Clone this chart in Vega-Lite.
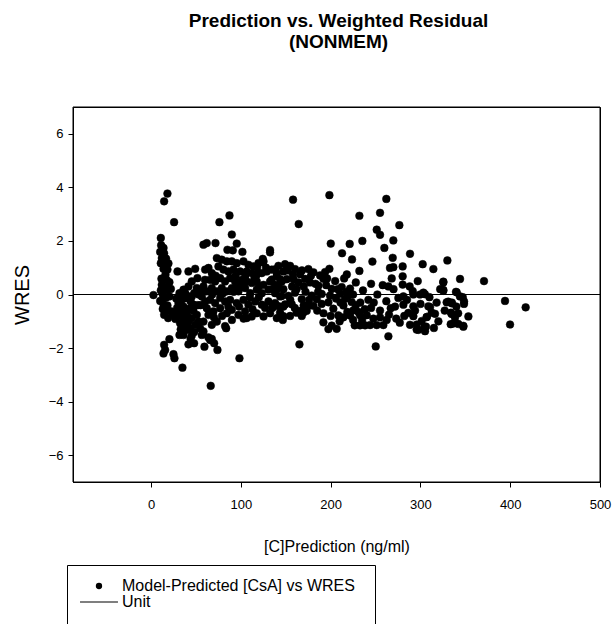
{
"$schema": "https://vega.github.io/schema/vega-lite/v6.json",
"width": 527,
"height": 375,
"autosize": {"type": "none"},
"padding": {"left": 73, "top": 107, "right": 14, "bottom": 142},
"background": "white",
"title": {"text": ["Prediction vs. Weighted Residual", "(NONMEM)"], "fontSize": 19, "font": "Liberation Sans", "fontWeight": "bold", "color": "black", "anchor": "middle", "offset": 55, "lineHeight": 21, "dx": 2},
"config": {
  "view": {"stroke": "black", "strokeWidth": 1},
  "font": "Liberation Sans",
  "axis": {"grid": false, "domainColor": "black", "tickColor": "black", "tickSize": 5, "labelColor": "black", "labelFontSize": 13, "labelFont": "Liberation Sans", "titleFont": "Liberation Sans", "titleFontWeight": "normal", "titleColor": "black"}
},
"layer": [
  {
    "data": {"values": [
{"c":10.8,"w":2.11},{"c":11.2,"w":1.84},{"c":13.8,"w":1.74},{"c":10.1,"w":1.59},{"c":14.5,"w":1.54},{"c":11.9,"w":1.36},{"c":16.7,"w":1.34},{"c":10.8,"w":1.17},{"c":15.6,"w":1.11},{"c":19.3,"w":1.16},
{"c":13.8,"w":0.96},{"c":18.2,"w":0.93},{"c":16,"w":0.74},{"c":11.5,"w":0.59},{"c":17.5,"w":0.54},{"c":20.4,"w":0.46},{"c":11.9,"w":0.36},{"c":15.6,"w":0.26},{"c":10.8,"w":0.15},{"c":18.2,"w":0.18},
{"c":22,"w":0.21},{"c":13,"w":0.0},{"c":16.7,"w":-0.11},{"c":20.4,"w":-0.07},{"c":10.1,"w":-0.24},{"c":13.8,"w":-0.36},{"c":18.2,"w":-0.41},{"c":13,"w":-0.54},{"c":16.7,"w":-0.61},{"c":22.3,"w":-0.63},
{"c":14.5,"w":-0.76},{"c":19,"w":-0.88},{"c":24.9,"w":-0.73},{"c":27.1,"w":-0.91},{"c":2.6,"w":-0.02},{"c":29.4,"w":0.86},{"c":18.2,"w":3.77},{"c":14.5,"w":3.48},{"c":25.6,"w":2.7},
{"c":14.5,"w":-1.88},{"c":15.6,"w":-2.07},{"c":13.8,"w":-2.2},{"c":20.4,"w":-1.67},{"c":24.9,"w":-2.23},{"c":26,"w":-2.38},{"c":34.9,"w":-2.73},{"c":31.6,"w":-1.51},{"c":41.6,"w":-1.86},
{"c":30.5,"w":-0.32},{"c":34.2,"w":-0.2},{"c":37.9,"w":-0.14},{"c":41.6,"w":-0.07},{"c":45.3,"w":-0.07},{"c":32.3,"w":-0.51},{"c":36.1,"w":-0.45},{"c":39.8,"w":-0.57},{"c":43.5,"w":-0.51},{"c":47.2,"w":-0.38},
{"c":30.5,"w":-0.7},{"c":34.2,"w":-0.82},{"c":37.9,"w":-0.88},{"c":41.6,"w":-1.01},{"c":45.3,"w":-0.88},{"c":50.9,"w":-0.76},{"c":32.3,"w":-1.07},{"c":36.1,"w":-1.2},{"c":39.8,"w":-1.32},{"c":43.5,"w":-1.26},
{"c":49,"w":-1.13},{"c":52.7,"w":-1.01},{"c":54.6,"w":-1.26},{"c":36.1,"w":-1.51},{"c":45.3,"w":-1.53},{"c":56.5,"w":-1.51},{"c":58.3,"w":-1.38},{"c":47.9,"w":-1.82},{"c":59.4,"w":-1.95},{"c":65.7,"w":-1.7},
{"c":70.2,"w":-1.82},{"c":73.9,"w":-2.07},{"c":98.4,"w":-2.38},{"c":83.6,"w":-1.26},{"c":41.6,"w":0.3},{"c":45.3,"w":0.49},{"c":50.9,"w":0.24},{"c":31.6,"w":0.05},{"c":36.1,"w":0.18},{"c":41.6,"w":0.86},
{"c":49.1,"w":0.96},{"c":51.6,"w":0.61},{"c":66.4,"w":-3.41},
{"c":58.3,"w":1.86},{"c":62,"w":1.92},{"c":71.7,"w":1.92},{"c":76.1,"w":2.7},{"c":87.3,"w":2.95},{"c":89.9,"w":2.24},{"c":95.4,"w":1.9},{"c":85,"w":1.67},{"c":91,"w":1.65},{"c":101.7,"w":1.59},
{"c":63.9,"w":0.99},{"c":60.2,"w":0.93},{"c":67.6,"w":0.8},{"c":73.2,"w":1.36},{"c":78.7,"w":1.3},{"c":84.3,"w":1.24},{"c":89.9,"w":1.24},{"c":95.4,"w":1.17},{"c":102.9,"w":1.24},{"c":108.4,"w":1.11},
{"c":114,"w":1.05},{"c":119.6,"w":1.17},{"c":125.2,"w":1.24},{"c":132.5,"w":1.57},{"c":75,"w":1.05},{"c":80.6,"w":0.93},{"c":86.1,"w":0.86},{"c":91.7,"w":0.93},{"c":99.1,"w":0.86},{"c":106.5,"w":0.86},
{"c":112.1,"w":0.8},{"c":117.7,"w":0.74},{"c":123.3,"w":0.8},{"c":128.8,"w":0.86},{"c":134.4,"w":0.93},{"c":140,"w":0.8},{"c":147.4,"w":0.86},{"c":65.7,"w":0.55},{"c":71.3,"w":0.49},{"c":76.9,"w":0.61},
{"c":82.4,"w":0.49},{"c":88,"w":0.61},{"c":93.6,"w":0.49},{"c":101,"w":0.55},{"c":106.5,"w":0.49},{"c":112.1,"w":0.43},{"c":117.7,"w":0.49},{"c":125.2,"w":0.36},{"c":132.5,"w":0.49},{"c":138.1,"w":0.36},
{"c":145.5,"w":0.49},{"c":58.3,"w":0.3},{"c":62,"w":0.12},{"c":67.6,"w":0.24},{"c":73.2,"w":0.12},{"c":78.7,"w":0.24},{"c":84.3,"w":0.12},{"c":89.9,"w":0.24},{"c":97.3,"w":0.12},{"c":104.7,"w":0.24},
{"c":110.3,"w":0.05},{"c":117.7,"w":0.18},{"c":123.3,"w":0.05},{"c":130.7,"w":0.18},{"c":138.1,"w":0.05},{"c":143.7,"w":-0.07},{"c":56.5,"w":-0.07},{"c":60.2,"w":-0.26},{"c":65.7,"w":-0.2},{"c":71.3,"w":-0.32},
{"c":76.9,"w":-0.13},{"c":82.4,"w":-0.26},{"c":88,"w":-0.2},{"c":95.4,"w":-0.32},{"c":102.9,"w":-0.2},{"c":108.4,"w":-0.38},{"c":115.9,"w":-0.26},{"c":123.3,"w":-0.38},{"c":130.7,"w":-0.26},{"c":138.1,"w":-0.32},
{"c":147.4,"w":-0.45},{"c":62,"w":-0.51},{"c":69.4,"w":-0.63},{"c":76.9,"w":-0.51},{"c":84.3,"w":-0.7},{"c":89.9,"w":-0.57},{"c":97.3,"w":-0.76},{"c":104.7,"w":-0.63},{"c":112.1,"w":-0.82},{"c":117.7,"w":-0.7},
{"c":125.2,"w":-0.82},{"c":132.5,"w":-0.7},{"c":140,"w":-0.88},{"c":146.7,"w":-0.95},{"c":63.9,"w":-0.76},{"c":58.3,"w":-1.01},{"c":67.6,"w":-1.13},{"c":73.2,"w":-1.01},{"c":106.5,"w":-0.88},{"c":124.4,"w":1.33},
{"c":124.4,"w":1.2},{"c":82.4,"w":-1.18},{"c":67.6,"w":-1.66},{"c":63.8,"w":-1.6},
{"c":158.1,"w":3.54},{"c":198.6,"w":3.71},{"c":164.4,"w":2.63},{"c":232,"w":2.94},{"c":262,"w":3.57},{"c":255,"w":3.05},{"c":276.5,"w":2.59},{"c":251.3,"w":2.42},{"c":255,"w":2.23},{"c":235.3,"w":2.0},
{"c":221.2,"w":1.89},{"c":200.1,"w":1.9},{"c":212.7,"w":1.54},{"c":223.8,"w":1.31},{"c":269.8,"w":2.02},{"c":259.8,"w":1.74},{"c":288.4,"w":1.52},{"c":246.5,"w":1.23},{"c":232,"w":0.88},{"c":269.1,"w":1.37},
{"c":269.8,"w":1.02},{"c":266.1,"w":0.99},{"c":280.2,"w":1.05},{"c":280.2,"w":0.68},{"c":280.2,"w":0.37},{"c":302.5,"w":1.13},{"c":314.4,"w":0.95},{"c":330,"w":1.27},{"c":325.5,"w":0.45},{"c":325.5,"w":0.14},
{"c":329.2,"w":-0.29},{"c":334.8,"w":-0.33},{"c":344.1,"w":0.58},{"c":340.4,"w":0.08},{"c":347.1,"w":-0.1},{"c":348.5,"w":-0.35},{"c":334.8,"w":-0.73},{"c":338.5,"w":-0.86},{"c":342.2,"w":-1.1},{"c":347.8,"w":-1.2},
{"c":333.7,"w":-1.11},{"c":307,"w":-0.84},{"c":306.2,"w":-1.2},{"c":305.1,"w":-1.37},{"c":295.8,"w":-1.31},{"c":295.8,"w":-1.12},{"c":301.4,"w":-0.99},{"c":310.7,"w":-0.47},{"c":316.2,"w":-0.72},{"c":292.1,"w":-0.44},
{"c":292.1,"w":0.0},{"c":299.5,"w":0.0},{"c":303.3,"w":0.07},{"c":292.1,"w":-0.81},{"c":288.4,"w":-1.13},{"c":286.5,"w":-0.69},{"c":281,"w":-0.38},{"c":281,"w":-0.07},{"c":275.4,"w":-0.13},{"c":271.7,"w":-0.45},
{"c":264.3,"w":0.3},{"c":266.9,"w":-0.51},{"c":262.4,"w":-0.95},{"c":258.7,"w":-1.14},{"c":251.3,"w":-1.14},{"c":243.9,"w":-1.14},{"c":238.3,"w":-1.15},{"c":232.7,"w":-1.15},{"c":226.8,"w":-1.15},{"c":247.6,"w":-0.9},
{"c":240.2,"w":-0.77},{"c":232.7,"w":-0.77},{"c":230.9,"w":-0.65},{"c":225.3,"w":-0.59},{"c":223.4,"w":-0.28},{"c":216,"w":-0.16},{"c":217.9,"w":0.1},{"c":221.6,"w":0.22},{"c":212.3,"w":0.28},{"c":210.5,"w":0.03},
{"c":214.2,"w":-0.41},{"c":218.6,"w":-0.65},{"c":221.6,"w":-0.78},{"c":214.2,"w":-0.85},{"c":201.2,"w":-1.16},{"c":197.5,"w":-1.29},{"c":191.9,"w":-1.04},{"c":206.7,"w":-1.28},{"c":208.6,"w":-0.78},{"c":203,"w":-0.53},
{"c":197.5,"w":-0.29},{"c":199.3,"w":-0.04},{"c":201.2,"w":0.21},{"c":190,"w":0.02},{"c":184.5,"w":-0.17},{"c":178.9,"w":-0.04},{"c":180.8,"w":-0.42},{"c":175.2,"w":-0.42},{"c":173.3,"w":-0.61},{"c":169.6,"w":-0.67},
{"c":167.8,"w":-0.8},{"c":165.9,"w":-0.61},{"c":191.9,"w":0.59},{"c":188.2,"w":0.71},{"c":180.8,"w":0.83},{"c":175.2,"w":0.95},{"c":193.8,"w":0.84},{"c":198.6,"w":0.96},{"c":186.3,"w":0.33},{"c":177,"w":0.45},
{"c":171.5,"w":0.58},{"c":165.9,"w":0.76},{"c":160.3,"w":0.95},{"c":154.8,"w":1.07},{"c":149.2,"w":1.13},{"c":141.8,"w":1.07},{"c":138.1,"w":0.94},{"c":139.9,"w":0.69},{"c":134.4,"w":0.56},{"c":143.6,"w":0.57},
{"c":151.1,"w":0.57},{"c":158.5,"w":0.57},{"c":164.1,"w":0.45},{"c":147.3,"w":0.2},{"c":139.9,"w":0.19},{"c":145.5,"w":-0.06},{"c":152.9,"w":-0.05},{"c":160.3,"w":0.07},{"c":167.8,"w":-0.17},{"c":156.6,"w":-0.36},
{"c":149.2,"w":-0.37},{"c":141.8,"w":-0.43},{"c":136.2,"w":-0.44},{"c":143.6,"w":-0.68},{"c":147.3,"w":-0.81},{"c":154.8,"w":-0.8},{"c":162.2,"w":-0.68},{"c":165.2,"w":-1.86},{"c":250.2,"w":-1.94},{"c":264.3,"w":-1.56},
{"c":132.5,"w":1.66},
{"c":394.2,"w":-0.24},{"c":417.2,"w":-0.48},{"c":399.8,"w":-1.12},{"c":370.8,"w":0.5},{"c":353.4,"w":-0.82},{"c":325.5,"w":0.48},{"c":325.5,"w":0.17},{"c":331,"w":-0.27},{"c":335,"w":-0.3},{"c":339.6,"w":0.1},
{"c":344,"w":-0.07},{"c":348.6,"w":-0.26},{"c":334,"w":-0.68},{"c":336.7,"w":-1.08},{"c":347.8,"w":-1.17},{"c":308.8,"w":-0.44},{"c":312.5,"w":-0.68},{"c":307,"w":-0.84},{"c":304.4,"w":-1.22},{"c":297.7,"w":-1.32},
{"c":291.4,"w":0.13},{"c":305,"w":0.01},
{"c":152,"w":0.9},{"c":157,"w":0.3},{"c":162,"w":0.2},{"c":170,"w":0.3},{"c":172,"w":0.1},{"c":176,"w":-0.2},{"c":183,"w":0.4},{"c":186,"w":0.1},{"c":190,"w":-0.35},{"c":195,"w":0.35},
{"c":178,"w":0.7},{"c":168,"w":0.9},{"c":155,"w":-0.2},{"c":160,"w":-0.5},{"c":170,"w":-0.4},{"c":185,"w":-0.6},{"c":192,"w":-0.7},{"c":196,"w":0.6},{"c":200,"w":-0.8},{"c":158,"w":0.75},
{"c":205,"w":0.5},{"c":208,"w":0.2},{"c":211,"w":-0.3},{"c":215,"w":0.6},{"c":219,"w":-0.05},{"c":225,"w":0.0},{"c":228,"w":-0.4},{"c":233,"w":-0.3},{"c":236,"w":0.15},{"c":238,"w":-0.55},
{"c":242,"w":-0.2},{"c":245,"w":-0.5},{"c":228,"w":0.45},{"c":218,"w":0.75},{"c":206,"w":-0.15},{"c":210,"w":-1.0},{"c":225,"w":-0.95},{"c":235,"w":-0.95},
{"c":248,"w":-0.3},{"c":252,"w":0.0},{"c":255,"w":-0.6},{"c":258,"w":0.35},{"c":262,"w":-0.25},{"c":265,"w":-0.75},{"c":270,"w":0.2},{"c":273,"w":-0.9},{"c":277,"w":-1.05},{"c":282,"w":-0.8},
{"c":285,"w":-0.2},{"c":288,"w":0.3},{"c":294,"w":-0.6},{"c":297,"w":0.5},{"c":300,"w":-0.35},{"c":255,"w":-0.85},{"c":245,"w":0.4},{"c":268,"w":0.6},
{"c":310,"w":-0.1},{"c":318,"w":-0.3},{"c":320,"w":-1.0},{"c":322,"w":0.2},{"c":327,"w":-0.6},{"c":340,"w":-0.45},{"c":342,"w":-0.7},{"c":315,"w":-1.25},
{"c":53,"w":0.0},{"c":55,"w":-0.4},{"c":68,"w":0.0},{"c":72,"w":0.7},{"c":80,"w":0.05},{"c":86,"w":-0.45},{"c":92,"w":0.1},{"c":98,"w":-0.45},{"c":94,"w":0.7},{"c":79,"w":-0.8},
{"c":70,"w":-0.85},{"c":60,"w":0.55},{"c":55,"w":0.15},{"c":90,"w":-0.95},
{"c":100,"w":0.3},{"c":105,"w":0.7},{"c":110,"w":-0.1},{"c":115,"w":0.6},{"c":120,"w":0.3},{"c":127,"w":-0.5},{"c":135,"w":0.2},{"c":128,"w":1.0},{"c":113,"w":-0.55},{"c":120,"w":-0.1},
{"c":135,"w":-0.5},{"c":142,"w":0.3},{"c":118,"w":1.0},{"c":103,"w":-0.9},{"c":96,"w":0.35},
{"c":28,"w":-0.15},{"c":33,"w":-0.05},{"c":38,"w":0.05},{"c":44,"w":-0.25},{"c":48,"w":0.05},{"c":35,"w":-0.65},{"c":40,"w":-0.75},{"c":47,"w":-0.6},{"c":29,"w":-0.5},{"c":33,"w":-1.3},
{"c":38,"w":-1.05},{"c":48,"w":-1.4},{"c":44,"w":-1.65},{"c":52,"w":-0.4}
    ]},
    "mark": {"type": "point", "filled": true, "fill": "black", "stroke": "black", "strokeWidth": 0.5, "opacity": 1, "size": 60},
    "encoding": {
      "x": {"field": "c", "type": "quantitative", "scale": {"domain": [-87, 500], "nice": false, "zero": false},
            "axis": {"values": [0, 100, 200, 300, 400, 500], "labelFlush": false, "labelOverlap": false, "labelPadding": 11, "title": "[C]Prediction (ng/ml)", "titleFontSize": 16, "titlePadding": 27}},
      "y": {"field": "w", "type": "quantitative", "scale": {"domain": [-7, 7], "nice": false, "zero": false},
            "axis": {"values": [-6, -4, -2, 0, 2, 4, 6], "labelPadding": 5, "title": "WRES", "titleFontSize": 20, "titlePadding": 16}},
      "shape": {"datum": "Model-Predicted [CsA] vs WRES",
                "scale": {"domain": ["Model-Predicted [CsA] vs WRES", "Unit", " "], "range": ["circle", "M-6,-0.16L6,-0.16L6,0.16L-6,0.16Z", "M0,0"]},
                "legend": {"orient": "none", "legendX": -6, "legendY": 458, "title": " ", "titleFontSize": 4, "titlePadding": 1, "direction": "vertical",
                           "strokeColor": "black", "fillColor": "white", "padding": 8, "symbolSize": 40, "symbolOffset": 16,
                           "symbolStrokeColor": "black", "symbolStrokeWidth": 0, "symbolFillColor": "black",
                           "labelFontSize": 16, "labelFont": "Liberation Sans", "labelColor": "black", "labelOffset": 15, "labelLimit": 500, "rowPadding": 0,
                           "labelExpr": "datum.label == ' ' ? '' : datum.label + '\u2800'",
                           "encode": {"symbols": {"update": {"fill": {"value": "black"}, "stroke": {"value": "black"}, "strokeWidth": {"value": 0.3}, "opacity": {"value": 1}}}}}}
    }
  },
  {
    "data": {"values": [{"unit": 0}]},
    "mark": {"type": "rule", "color": "black", "strokeWidth": 1},
    "encoding": {
      "x": {"datum": -87, "type": "quantitative"},
      "x2": {"datum": 500},
      "y": {"field": "unit", "type": "quantitative", "title": "WRES"}
    }
  },
  {
    "data": {"values": [{"unit": 0}]},
    "mark": {"type": "rect", "filled": false, "fill": null, "stroke": "black", "strokeWidth": 1},
    "encoding": {
      "x": {"datum": -87, "type": "quantitative"},
      "x2": {"datum": 500},
      "y": {"datum": -7, "type": "quantitative"},
      "y2": {"datum": 7}
    }
  }
]
}
